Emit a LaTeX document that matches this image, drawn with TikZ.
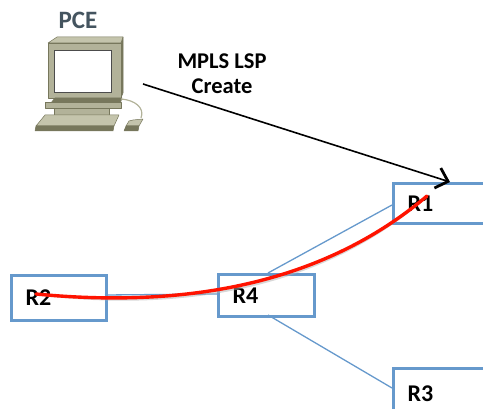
\documentclass[tikz,border=0pt]{standalone}
\usepackage{fontspec}
\setmainfont{Carlito}
\usetikzlibrary{arrows.meta}
\definecolor{boxblue}{HTML}{6699CC}
\definecolor{pcetext}{HTML}{44545F}
\definecolor{pcbody}{HTML}{B2B299}
\definecolor{pctop}{HTML}{C4C4AC}
\definecolor{pcside}{HTML}{77775C}

\begin{document}
\begin{tikzpicture}[
  x=1pt,
  y=-1pt,
  >={Straight Barb[length=11pt,width=21pt,line width=2.8pt]},
  router/.style={draw=boxblue,line width=3pt,inner ysep=0,inner xsep=14pt,anchor=north west,align=left,
    text width=#1-28pt,minimum height=40pt,font=\bfseries\fontsize{24}{26}\selectfont,text=black},
  link/.style={draw=boxblue,line width=1.3pt},
  lsp/.style={draw=red!85!orange,line width=3.4pt,line cap=round},
  pcpart/.style={draw=pcside,line width=0.5pt,line join=round},
  label/.style={font=\bfseries\fontsize{22.5}{25}\selectfont,align=center}
  ]

  \useasboundingbox (0, 0) rectangle (483, 409);
  \clip (0, 0) rectangle (483, 409);

  % computer
  \filldraw[pcpart,fill=pcside] (121, 43) -- (123, 37) -- (123, 93) -- (121, 98) -- cycle;
  \filldraw[pcpart,fill=pctop] (48, 43) -- (57, 37) -- (123, 37) -- (121, 43) -- cycle;
  \filldraw[pcpart,fill=pcbody] (48, 43) rectangle (121, 98);
  \filldraw[draw=black!70,fill=white,line width=0.7pt] (54, 50) rectangle (111, 92);
  \filldraw[pcpart,fill=pcside] (55, 98) -- (122, 98) -- (120, 104) -- (50, 104) -- cycle;
  \filldraw[pcpart,fill=pcbody] (45, 102) -- (121, 102) -- (121, 108) -- (45, 108) -- cycle;
  \filldraw[pcpart,fill=pcbody] (54, 108) rectangle (109, 115);
  \filldraw[pcpart,fill=pctop] (45, 115) -- (119, 115) -- (114, 126) -- (36, 126) -- cycle;
  \filldraw[pcpart,fill=pcside] (36, 126) -- (114, 126) -- (113, 131) -- (35, 131) -- cycle;
  \draw[pcbody,line width=1.2pt] (121, 99) .. controls (135, 100) and (145, 108) .. (141, 118);
  \filldraw[pcpart,fill=pctop] (129, 121) -- (133, 120) -- (143, 119) -- (139, 126) -- (126, 126) -- cycle;
  \filldraw[pcpart,fill=pcside] (126, 126) -- (139, 126) -- (138, 131) -- (124, 131) -- cycle;

  \node [label,text=pcetext,font=\bfseries\fontsize{25}{27}\selectfont] (pce) at (78, 20) {PCE};
  \coordinate (pcecorner) at (143, 84);
  \node [label] (create) at (222, 74) {MPLS LSP\\Create};

  % routers
  \node [router=120pt] (r1) at (392, 182) {R1};
  \node [router=95pt,minimum height=45pt] (r2) at (10, 274) {R2};
  \node [router=96pt,minimum height=42pt] (r4) at (217, 273) {R4};
  \node [router=120pt,minimum height=50pt] (r3) at (392, 367) {R3};

  % links
  \coordinate (r4top) at (268, 273);
  \coordinate (r4bottom) at (268, 315);
  \coordinate (r1left) at (392, 205);
  \coordinate (r3left) at (392, 388);
  \coordinate (r2right) at (105, 295);
  \coordinate (r4left) at (217, 294);
  \draw[link] (r4top) -- (r1left);
  \draw[link] (r4bottom) -- (r3left);
  \draw[link] (r2right) -- (r4left);

  % lsp
  \coordinate (lspstart) at (36, 294);
  \coordinate (lspend) at (427, 196);
  \draw[black!30,line width=2.5pt,opacity=0.5,yshift=-3pt,xshift=1pt]
    (lspstart) .. controls (160, 306) and (310, 295) .. (lspend);
  \draw[lsp] (lspstart) .. controls (160, 306) and (310, 295) .. (lspend);

  \coordinate (r1top) at (450, 182);
  \draw[->,black,line width=1.6pt] (pcecorner) -- (r1top);
\end{tikzpicture}
\end{document}
